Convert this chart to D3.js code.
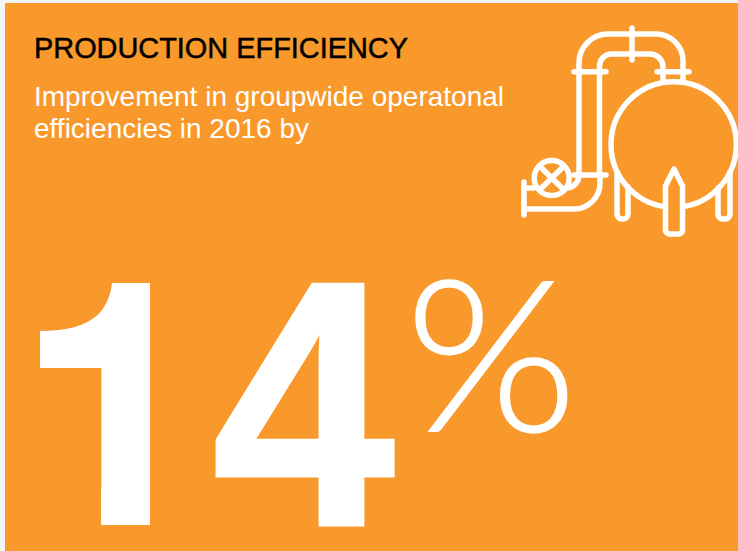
<!DOCTYPE html>
<html lang="en">
<head>
<meta charset="UTF-8">
<title>Production efficiency</title>
<script src="https://d3js.org/d3.v7.min.js"></script>
<style>
    body { margin: 0; background: #f4f4f4; }
    svg { display: block; }
    text { font-family: "Liberation Sans", sans-serif; }
</style>
</head>
<body>
<svg width="738" height="551"></svg>
<script>
const title = "PRODUCTION EFFICIENCY";
const subtitleLines = ["Improvement in groupwide operatonal", "efficiencies in 2016 by"];
const digits = ["1", "4"];
const unit = "%";

const orange = "#f9992b";
const svg = d3.select("svg");

svg.append("rect").attr("x", 5).attr("y", 3).attr("width", 733).attr("height", 548).attr("fill", orange);

svg.append("text").attr("x", 34).attr("y", 58)
    .attr("font-size", 28.9).attr("fill", "#000")
    .attr("stroke", "#000").attr("stroke-width", 0.5)
    .text(title);

svg.selectAll(".sub").data(subtitleLines).enter().append("text")
    .attr("class", "sub")
    .attr("x", 34)
    .attr("y", (d, i) => 106 + i * 32)
    .attr("font-size", 28)
    .attr("fill", "#fff")
    .text(d => d);

// big number, digits placed one by one
const digitX = [25, 212];
svg.selectAll(".digit").data(digits).enter().append("text")
    .attr("class", "digit")
    .attr("transform", (d, i) => `translate(${digitX[i]},525) scale(.94,1)`)
    .attr("font-size", 350)
    .attr("font-weight", 700)
    .attr("fill", "#fff")
    .attr("stroke", "#fff")
    .attr("stroke-width", (d, i) => i ? 3 : 0)
    .text(d => d);

// the installed 1 has a foot and a straight flag, the reference has neither
const glyphCover = [[28, 275, 84, 93], [28, 480, 73, 50], [150, 480, 60, 50]];
svg.selectAll(".cover").data(glyphCover).enter().append("rect")
    .attr("class", "cover")
    .attr("x", d => d[0])
    .attr("y", d => d[1])
    .attr("width", d => d[2])
    .attr("height", d => d[3])
    .attr("fill", orange);
svg.append("path").attr("fill", "#fff")
    .attr("d", "M40 331C85 331 108 317 112 283H150V525H101.5V368H40Z");

svg.append("text").attr("transform", "translate(405,431) scale(1.045,1)")
    .attr("font-size", 212)
    .attr("font-weight", 300)
    .style("font-family", "Lato")
    .attr("fill", "#fff")
    .attr("stroke", "#fff").attr("stroke-width", 1.5)
    .text(unit);

// pipe and tank icon
const icon = svg.append("g")
    .attr("fill", "none").attr("stroke", "#fff")
    .attr("stroke-width", 5.5).attr("stroke-linecap", "round").attr("stroke-linejoin", "round");

const pipes = [
    "M579 175V63A29 29 0 0 1 608 34H656A27 27 0 0 1 683 61V82",
    "M599.5 175V66A12 12 0 0 1 611.5 54H650A13 13 0 0 1 663 67V82",
    "M574 71.7H606", "M657 71.7H689", "M574 175H606", "M632 28V60",
    "M524 182V215", "M524 188H534",
    "M524 209H574A26 26 0 0 0 600 183V175",
    "M579 175A13 13 0 0 1 566 188"
];
icon.selectAll(".pipe").data(pipes).enter().append("path").attr("d", d => d);

icon.append("circle").attr("cx", 551.7).attr("cy", 178).attr("r", 17.5).attr("fill", orange);
icon.append("path").attr("d", "M541.5 168L562 188M562 168L541.5 188");

const legs = [
    "M617 172V214A5 5 0 0 0 622 219H623A5 5 0 0 0 628 214V187",
    "M718 188V214A5 5 0 0 0 723 219H725A5 5 0 0 0 730 214V172"
];
icon.selectAll(".leg").data(legs).enter().append("path").attr("d", d => d);

icon.append("circle").attr("cx", 673.7).attr("cy", 144.5).attr("r", 62.7);
icon.append("path").attr("fill", orange)
    .attr("d", "M674 169L682.5 186V230A4 4 0 0 1 678.5 234H669.5A4 4 0 0 1 665.5 230V186Z");
</script>
</body>
</html>
